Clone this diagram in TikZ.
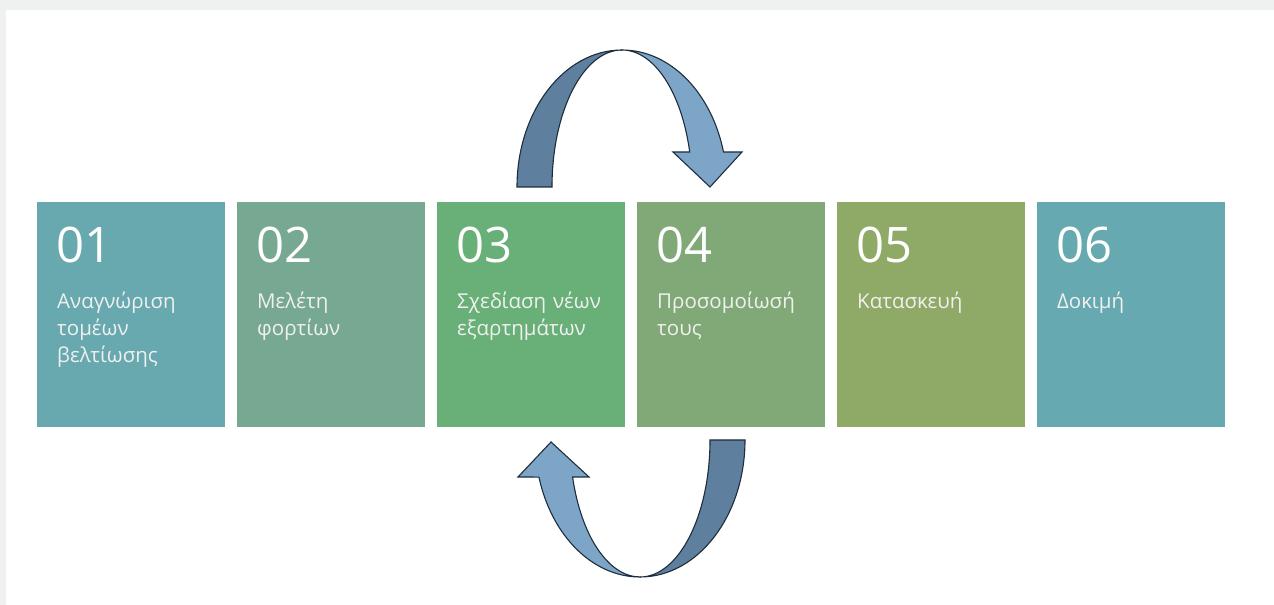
\documentclass[tikz,border=0pt]{standalone}
\usepackage{fontspec}
\setmainfont{Open Sans}
\usetikzlibrary{positioning}
\definecolor{frame}{HTML}{EFF1F0}
\definecolor{cA}{HTML}{67A9AF}
\definecolor{cB}{HTML}{77A992}
\definecolor{cC}{HTML}{68B077}
\definecolor{cD}{HTML}{80A977}
\definecolor{cE}{HTML}{8FA966}
\definecolor{cF}{HTML}{67A9B0}
\definecolor{bandback}{HTML}{5F7F9E}
\definecolor{bandfront}{HTML}{7DA5C8}
\definecolor{bandline}{HTML}{1E2D3C}
\begin{document}
\begin{tikzpicture}[line join=miter,
    stepbox/.style={rectangle,inner sep=0pt,minimum width=188bp,minimum height=225bp},
    num/.style={anchor=base west,inner sep=0pt,text=white,font=\fontsize{49bp}{49bp}\selectfont},
    lab/.style={anchor=base west,inner sep=0pt,align=left,text width=175bp,text=white!94!black,
                font=\fontsize{20.5bp}{27bp}\selectfont},
    band/.style={draw=bandline,line width=1.1bp},
  ]
        %%
        \fill [frame] (0bp,0bp) rectangle (1274bp,605bp);
        \fill [white] (6bp,0bp) rectangle (1274bp,595bp);
        \useasboundingbox (0bp,0bp) rectangle (1274bp,605bp);
        %%
        \node (b1) at (131.0bp,290.5bp) [stepbox,fill=cA] {};
        \node (b2) at (331.0bp,290.5bp) [stepbox,fill=cB] {};
        \node (b3) at (531.0bp,290.5bp) [stepbox,fill=cC] {};
        \node (b4) at (731.0bp,290.5bp) [stepbox,fill=cD] {};
        \node (b5) at (931.0bp,290.5bp) [stepbox,fill=cE] {};
        \node (b6) at (1131.0bp,290.5bp) [stepbox,fill=cF] {};
        %%
        \node (n1) at (56.0bp,342.0bp) [num] {01};
        \node (n2) at (256.0bp,342.0bp) [num] {02};
        \node (n3) at (456.0bp,342.0bp) [num] {03};
        \node (n4) at (656.0bp,342.0bp) [num] {04};
        \node (n5) at (856.0bp,342.0bp) [num] {05};
        \node (n6) at (1056.0bp,342.0bp) [num] {06};
        \node (t1) at (57.0bp,296.0bp) [lab] {Αναγνώριση\\τομέων\\βελτίωσης};
        \node (t2) at (257.0bp,296.0bp) [lab] {Μελέτη\\φορτίων};
        \node (t3) at (457.0bp,296.0bp) [lab] {Σχεδίαση νέων\\εξαρτημάτων};
        \node (t4) at (657.0bp,296.0bp) [lab] {Προσομοίωσή\\τους};
        \node (t5) at (857.0bp,296.0bp) [lab] {Κατασκευή};
        \node (t6) at (1057.0bp,296.0bp) [lab] {Δοκιμή};
        %%
        % loop from 03 back over to 04
        \coordinate (up) at (622.0bp,418.0bp);
        \coordinate (uptip) at (710.0bp,418.0bp);
        \filldraw [band,fill=bandback] (up) ++(-105bp,0bp)
            arc [start angle=180,end angle=90,x radius=105bp,y radius=137bp]
            arc [start angle=90,end angle=180,x radius=70bp,y radius=137bp] -- cycle;
        \filldraw [band,fill=bandfront] (up) ++(0bp,137bp)
            arc [start angle=90,end angle=14.8,x radius=105bp,y radius=137bp]
            -- (742.0bp,453.0bp) -- (uptip) -- (673.0bp,453.0bp)
            -- (689.7bp,453.0bp)
            arc [start angle=14.8,end angle=90,x radius=70bp,y radius=137bp] -- cycle;
        %%
        % loop from 04 back under to 03
        \coordinate (down) at (640.0bp,165.0bp);
        \coordinate (downtip) at (551.0bp,163.0bp);
        \filldraw [band,fill=bandback] (down) ++(105bp,0bp)
            arc [start angle=0,end angle=-90,x radius=105bp,y radius=137bp]
            arc [start angle=-90,end angle=0,x radius=70bp,y radius=137bp] -- cycle;
        \filldraw [band,fill=bandfront] (down) ++(0bp,-137bp)
            arc [start angle=270,end angle=195.7,x radius=105bp,y radius=137bp]
            -- (518.0bp,128.0bp) -- (downtip) -- (589.0bp,128.0bp)
            -- (572.6bp,128.0bp)
            arc [start angle=195.7,end angle=270,x radius=70bp,y radius=137bp] -- cycle;
        %
    \end{tikzpicture}
\end{document}
